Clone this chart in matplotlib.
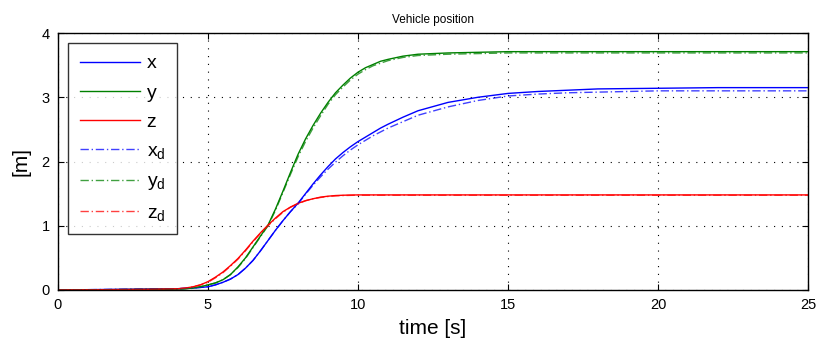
import matplotlib
matplotlib.use("Agg")
import matplotlib.pyplot as plt

plt.rcParams['font.family'] = ['Liberation Sans', 'DejaVu Sans']
plt.rcParams['mathtext.fontset'] = 'custom'
plt.rcParams['mathtext.rm'] = 'Liberation Sans'

t = [0, 1, 2, 3, 4, 4.25, 4.5, 4.75, 5, 5.25, 5.5, 5.75, 6, 6.25, 6.5, 6.75, 7,
     7.25, 7.5, 7.75, 8, 8.25, 8.5, 8.75, 9, 9.25, 9.5, 9.75, 10, 10.25, 10.5,
     10.75, 11, 11.5, 12, 13, 14, 15, 16, 17, 18, 20, 22, 25]

x = [0, 0.005, 0.01, 0.015, 0.02, 0.025, 0.03, 0.04, 0.05, 0.08, 0.12, 0.17, 0.24,
     0.34, 0.46, 0.61, 0.77, 0.93, 1.08, 1.22, 1.35, 1.50, 1.65, 1.79, 1.92, 2.04,
     2.14, 2.23, 2.31, 2.38, 2.45, 2.52, 2.58, 2.69, 2.79, 2.92, 3.00, 3.06, 3.09,
     3.11, 3.13, 3.14, 3.15, 3.15]
y = [0, 0.003, 0.006, 0.01, 0.015, 0.02, 0.03, 0.05, 0.08, 0.11, 0.16, 0.24, 0.36,
     0.50, 0.67, 0.84, 1.01, 1.26, 1.54, 1.83, 2.11, 2.35, 2.56, 2.75, 2.92, 3.07,
     3.19, 3.30, 3.39, 3.46, 3.51, 3.56, 3.59, 3.64, 3.67, 3.69, 3.70, 3.71, 3.71,
     3.71, 3.71, 3.71, 3.71, 3.71]
z = [0, 0.003, 0.006, 0.01, 0.02, 0.03, 0.05, 0.08, 0.13, 0.20, 0.28, 0.38, 0.49,
     0.62, 0.76, 0.89, 1.01, 1.12, 1.22, 1.29, 1.35, 1.39, 1.42, 1.445, 1.46, 1.47,
     1.475, 1.478, 1.48, 1.48, 1.48, 1.48, 1.48, 1.48, 1.48, 1.48, 1.48, 1.48, 1.48,
     1.48, 1.48, 1.48, 1.48, 1.48]

xd = [0, 0.005, 0.01, 0.015, 0.02, 0.025, 0.03, 0.04, 0.05, 0.08, 0.12, 0.17, 0.24,
      0.34, 0.46, 0.61, 0.77, 0.93, 1.08, 1.22, 1.34, 1.49, 1.63, 1.76, 1.88, 1.99,
      2.09, 2.18, 2.26, 2.33, 2.40, 2.46, 2.52, 2.62, 2.72, 2.85, 2.95, 3.02, 3.05,
      3.07, 3.08, 3.10, 3.10, 3.10]
yd = [0, 0.003, 0.006, 0.01, 0.015, 0.02, 0.03, 0.05, 0.08, 0.11, 0.16, 0.24, 0.35,
      0.49, 0.66, 0.83, 1.00, 1.24, 1.52, 1.80, 2.07, 2.31, 2.52, 2.71, 2.89, 3.04,
      3.16, 3.27, 3.36, 3.43, 3.49, 3.53, 3.57, 3.62, 3.65, 3.67, 3.68, 3.69, 3.69,
      3.69, 3.69, 3.69, 3.69, 3.69]
zd = [0, 0.003, 0.006, 0.01, 0.02, 0.03, 0.05, 0.08, 0.12, 0.19, 0.27, 0.37, 0.48,
      0.61, 0.75, 0.88, 1.00, 1.11, 1.21, 1.29, 1.34, 1.39, 1.42, 1.44, 1.455, 1.465,
      1.47, 1.473, 1.475, 1.475, 1.475, 1.475, 1.475, 1.475, 1.475, 1.475, 1.475,
      1.475, 1.475, 1.475, 1.475, 1.475, 1.475, 1.475]

xticks = [0, 5, 10, 15, 20, 25]
yticks = [0, 1, 2, 3, 4]

fig = plt.figure(figsize=(8.2, 3.44), dpi=100)
ax = fig.add_axes([0.0707, 0.157, 0.9147, 0.747])

blue, green, red = (0, 0, 1), (0, 0.5, 0), (1, 0, 0)
dash = (0, (6, 2, 1, 2))
ax.plot(t, x, color=blue, lw=1.0, label='x')
ax.plot(t, y, color=green, lw=1.0, label='y')
ax.plot(t, z, color=red, lw=1.0, label='z')
ax.plot(t, xd, color=blue, lw=1.0, ls=dash, alpha=0.75, label=r'$\mathregular{x_d}$')
ax.plot(t, yd, color=green, lw=1.0, ls=dash, alpha=0.75, label=r'$\mathregular{y_d}$')
ax.plot(t, zd, color=red, lw=1.0, ls=dash, alpha=0.75, label=r'$\mathregular{z_d}$')

ax.set_xlim(0, 25)
ax.set_ylim(0, 4)
ax.set_xticks(xticks)
ax.set_yticks(yticks)
ax.tick_params(direction='in', top=True, right=True, labelsize=10.5, length=4,
               width=0.8, pad=6)
ax.grid(True, color='black', linestyle=(0, (1, 6)), linewidth=0.8)
for s in ax.spines.values():
    s.set_linewidth(1.0)

ax.set_xlabel('time [s]', fontsize=15, labelpad=5)
ax.set_ylabel('[m]', fontsize=15, labelpad=8)
ax.set_title('Vehicle position', fontsize=8.5, pad=7)

leg = ax.legend(loc='upper left', fontsize=14, frameon=True, fancybox=False,
                edgecolor='black', handlelength=3.1, handletextpad=0.35,
                borderpad=0.6, borderaxespad=0, labelspacing=0.6,
                bbox_to_anchor=(0.0133, 0.961))
leg.get_frame().set_linewidth(1.0)

fig.savefig('out.png', dpi=100)
